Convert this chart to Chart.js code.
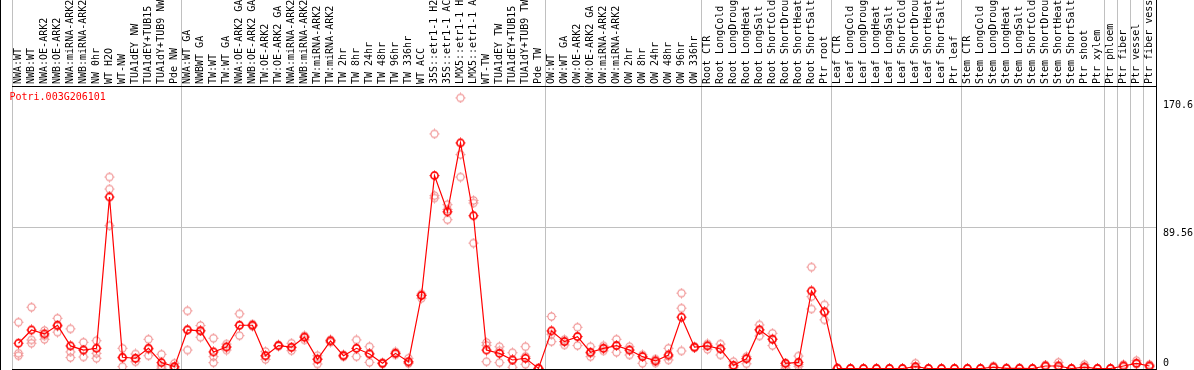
<!DOCTYPE html>
<html>
<head>
<meta charset="utf-8">
<script src="https://cdn.jsdelivr.net/npm/chart.js@4.4.1/dist/chart.umd.min.js"></script>
<style>
  body { margin: 0; background: #fff; }
  #wrap { width: 1194px; height: 370px; border-left: 1px solid #000; box-sizing: border-box; }
</style>
</head>
<body>
<div id="wrap"><canvas id="grafico"></canvas></div>
<script>
var geneName = 'Potri.003G206101';

var categories = [
  'NWA:WT', 'NWB:WT', 'NWA:OE-ARK2', 'NWB:OE-ARK2', 'NWA:miRNA-ARK2', 'NWB:miRNA-ARK2',
  'NW 0hr', 'WT H2O', 'WT-NW', 'TUA1dEY NW', 'TUA1dEY+TUB15', 'TUA1dY+TUB9 NW', 'Pde NW',
  'NWA:WT GA', 'NWBWT GA', 'TW:WT', 'TW:WT GA', 'NWA:OE-ARK2 GA', 'NWB:OE-ARK2 GA',
  'TW:OE-ARK2', 'TW:OE-ARK2 GA', 'NWA:miRNA-ARK2 GA', 'NWB:miRNA-ARK2 GA', 'TW:miRNA-ARK2',
  'TW:miRNA-ARK2 GA', 'TW 2hr', 'TW 8hr', 'TW 24hr', 'TW 48hr', 'TW 96hr', 'TW 336hr',
  'WT ACC', '35S::etr1-1 H2O', '35S::etr1-1 ACC', 'LMX5::etr1-1 H2O', 'LMX5::etr1-1 ACC',
  'WT-TW', 'TUA1dEY TW', 'TUA1dEY+TUB15 TW', 'TUA1dY+TUB9 TW', 'Pde TW',
  'OW:WT', 'OW:WT GA', 'OW:OE-ARK2', 'OW:OE-ARK2 GA', 'OW:miRNA-ARK2', 'OW:miRNA-ARK2 GA',
  'OW 2hr', 'OW 8hr', 'OW 24hr', 'OW 48hr', 'OW 96hr', 'OW 336hr',
  'Root CTR', 'Root LongCold', 'Root LongDrought', 'Root LongHeat', 'Root LongSalt',
  'Root ShortCold', 'Root ShortDrought', 'Root ShortHeat', 'Root ShortSalt', 'Ptr root',
  'Leaf CTR', 'Leaf LongCold', 'Leaf LongDrought', 'Leaf LongHeat', 'Leaf LongSalt',
  'Leaf ShortCold', 'Leaf ShortDrought', 'Leaf ShortHeat', 'Leaf ShortSalt', 'Ptr leaf',
  'Stem CTR', 'Stem LongCold', 'Stem LongDrought', 'Stem LongHeat', 'Stem LongSalt',
  'Stem ShortCold', 'Stem ShortDrought', 'Stem ShortHeat', 'Stem ShortSalt', 'Ptr shoot',
  'Ptr xylem', 'Ptr phloem', 'Ptr fiber', 'Ptr vessel', 'Ptr fiber vessel'
];

// mean expression
var meanValues = [
  16.3, 24.7, 22.2, 27.7, 14.6, 12.0, 13.1, 108.9, 7.4, 6.8, 13.1, 4.0, 1.5,
  24.7, 24.1, 10.8, 13.9, 27.7, 27.7, 8.4, 14.8, 13.8, 20.1, 6.1, 17.8, 8.4, 13.1,
  9.5, 3.6, 9.9, 4.6, 46.5, 122.4, 99.5, 143.1, 97.0, 12.0, 9.9, 5.7, 6.8, 0.4,
  24.1, 17.3, 20.5, 10.6, 13.1, 14.8, 12.0, 7.8, 5.1, 8.9, 32.8, 13.8,
  14.6, 12.7, 2.3, 6.5, 24.7, 18.8, 3.6, 4.2, 49.4, 36.1,
  0.4, 0.3, 0.3, 0.3, 0.3, 0.3, 1.5, 0.3, 0.3, 0.3,
  0.3, 0.3, 1.2, 0.4, 0.4, 0.3, 1.9, 1.9, 0.3, 1.2, 0.3,
  0.3, 1.9, 3.6, 1.9
];

// replicates
var rep1 = [
  29.6, 39.1, 24.3, 32.1, 25.4, 16.9, 17.9, 121.5, 13.1, 9.5, 18.8, 9.3, 3.6,
  36.8, 27.5, 19.5, 15.8, 34.9, 27.0, 11.0, 15.3, 16.3, 21.0, 8.4, 18.5, 9.0, 18.4,
  14.1, 4.0, 10.8, 6.8, 47.5, 148.8, 104.0, 171.6, 106.7, 16.7, 14.1, 10.3, 14.1, 0.4,
  33.2, 18.6, 26.4, 14.1, 14.6, 18.8, 14.1, 9.0, 6.3, 13.1, 48.0, 14.2,
  15.9, 15.8, 4.6, 7.8, 27.9, 22.6, 3.6, 8.2, 64.5, 40.6,
  0.6, 0.4, 0.4, 0.5, 0.4, 0.4, 3.6, 0.4, 0.4, 0.4,
  0.4, 0.4, 1.8, 0.5, 0.5, 0.4, 2.5, 4.2, 0.4, 2.8, 0.4,
  0.4, 2.8, 5.3, 2.8
];
var rep2 = [
  10.0, 18.4, 18.8, 23.3, 10.8, 7.6, 9.9, 113.9, 1.5, 4.6, 8.4, 1.9, 0.4,
  12.0, 20.1, 7.8, 12.0, 21.1, 28.4, 6.1, 14.4, 11.6, 18.4, 3.2, 17.0, 7.8, 7.8,
  4.2, 3.2, 9.0, 3.5, 44.8, 109.7, 94.5, 135.7, 105.1, 4.6, 4.0, 1.1, 8.0, 0.2,
  17.3, 15.2, 14.8, 7.8, 11.5, 10.6, 8.9, 3.6, 3.8, 5.7, 38.5, 13.4,
  12.5, 8.9, 1.5, 3.3, 20.9, 14.8, 2.2, 1.7, 45.8, 31.1,
  0.2, 0.2, 0.2, 0.2, 0.2, 0.2, 1.0, 0.2, 0.2, 0.2,
  0.2, 0.2, 0.8, 0.3, 0.3, 0.2, 1.5, 1.0, 0.2, 0.6, 0.2,
  0.2, 1.2, 3.0, 1.2
];
var rep3 = [
  8.4, 16.3, 21.0, 27.0, 7.2, 12.0, 6.8, 90.7, 7.0, 6.5, 12.5, 0.5, 1.0,
  25.0, 24.5, 4.0, 14.0, 27.5, 27.7, 8.2, 14.8, 13.5, 20.5, 6.5, 18.0, 8.4, 13.0,
  10.0, 3.6, 10.0, 4.2, 46.8, 108.2, 101.0, 121.5, 79.7, 15.0, 11.5, 5.7, 3.0, 0.6,
  22.0, 17.5, 20.5, 10.0, 13.0, 15.0, 12.0, 8.0, 5.1, 8.0, 11.4, 13.8,
  14.8, 13.0, 0.8, 6.5, 25.0, 19.0, 0.5, 3.0, 38.0, 36.5,
  0.3, 0.3, 0.3, 0.3, 0.3, 0.3, 0.3, 0.3, 0.3, 0.3,
  0.3, 0.3, 1.0, 0.4, 0.4, 0.3, 1.9, 1.9, 0.3, 1.2, 0.3,
  0.3, 1.9, 3.6, 1.9
];

var yTicks = [0, 89.56, 170.6];
var yMax = 179.12;
// grid line index (left edge of category) where a group starts
var groupStarts = [0, 13, 41, 53, 63, 73, 84, 85, 86, 87];

var monoFont = { family: 'DejaVu Sans Mono', size: 10 };

function makeMarker(color, lw) {
  var c = document.createElement('canvas');
  c.width = 11; c.height = 11;
  var g = c.getContext('2d');
  g.strokeStyle = color;
  g.lineWidth = lw;
  g.beginPath();
  g.arc(5.5, 5.5, 3.6, 0, Math.PI * 2);
  g.stroke();
  g.lineWidth = 1;
  g.beginPath();
  g.moveTo(5.5, 0.5); g.lineTo(5.5, 1.8);
  g.moveTo(5.5, 9.2); g.lineTo(5.5, 10.5);
  g.moveTo(0.5, 5.5); g.lineTo(1.8, 5.5);
  g.moveTo(9.2, 5.5); g.lineTo(10.5, 5.5);
  g.stroke();
  return c;
}

var mainMarker = makeMarker('#ff0000', 1.6);
var repMarker = makeMarker('#f09090', 1.1);

var cornerTitle = {
  id: 'cornerTitle',
  afterDraw: function (chart, args, opts) {
    var ctx = chart.ctx;
    ctx.save();
    ctx.font = '10px "DejaVu Sans Mono"';
    ctx.fillStyle = opts.color;
    ctx.textBaseline = 'middle';
    ctx.fillText(opts.text, chart.chartArea.left - 2.5, chart.chartArea.top + 11);
    ctx.restore();
  }
};

function repSet(vals) {
  return {
    data: vals,
    showLine: false,
    pointStyle: repMarker,
    pointRadius: 5,
    borderColor: '#f09090',
    backgroundColor: 'rgba(0,0,0,0)',
    clip: { left: 10, right: 10, top: 10, bottom: 0 },
    order: 2
  };
}

var ctx = document.getElementById('grafico').getContext('2d');
var myChart = new Chart(ctx, {
  type: 'line',
  data: {
    labels: categories,
    datasets: [{
      data: meanValues,
      borderColor: '#ff0000',
      borderWidth: 1.2,
      pointStyle: mainMarker,
      pointRadius: 5,
      fill: false,
      tension: 0,
      clip: { left: 10, right: 10, top: 10, bottom: 0 },
      order: 1
    }, repSet(rep1), repSet(rep2), repSet(rep3)]
  },
  plugins: [cornerTitle],
  options: {
    responsive: true,
    maintainAspectRatio: false,
    animation: false,
    events: [],
    layout: { autoPadding: false, padding: { left: 11, bottom: 1, top: 0, right: 0 } },
    plugins: {
      legend: { display: false },
      tooltip: { enabled: false },
      cornerTitle: { text: geneName, color: '#ff0000' }
    },
    scales: {
      x: {
        type: 'category',
        position: 'top',
        offset: true,
        grid: {
          offset: true,
          tickLength: 86,
          lineWidth: 1,
          color: function (c) {
            if (c.type !== 'tick') return '#000';
            return groupStarts.indexOf(c.index) >= 0 ? '#c0c0c0' : 'rgba(0,0,0,0)';
          }
        },
        border: { display: true, color: '#000', width: 1 },
        ticks: {
          autoSkip: false,
          minRotation: 90,
          maxRotation: 90,
          padding: -84,
          labelOffset: 12,
          color: '#000',
          font: monoFont
        },
        afterFit: function (s) {
          s.height = 86;
          s.paddingLeft = 0;
          s.paddingRight = 0;
        }
      },
      y: {
        position: 'right',
        min: 0,
        max: yMax,
        afterBuildTicks: function (s) {
          s.ticks = yTicks.map(function (v) { return { value: v }; });
        },
        grid: {
          drawTicks: false,
          color: function (c) {
            if (!c.tick) return 'rgba(0,0,0,0)';
            if (c.tick.value === 0) return '#000';
            if (c.tick.value === yTicks[1]) return '#c0c0c0';
            return 'rgba(0,0,0,0)';
          }
        },
        border: { display: true, color: '#000', width: 1 },
        ticks: {
          padding: 7,
          color: '#000',
          font: monoFont,
          callback: function (v) { return v === 0 ? ['0', ''] : ['', String(v)]; }
        },
        afterFit: function (s) {
          s.width = 38;
          s.paddingTop = 0;
          s.paddingBottom = 0;
        }
      }
    }
  }
});
</script>
</body>
</html>
